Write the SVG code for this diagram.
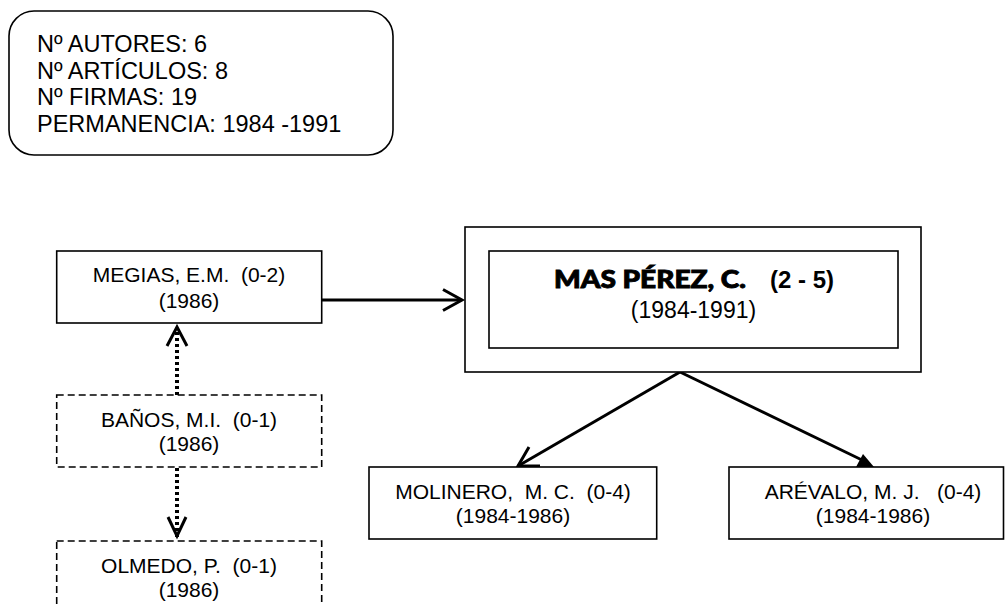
<svg xmlns="http://www.w3.org/2000/svg" width="1005" height="606" viewBox="0 0 1005 606" xml:space="preserve">
<style>
text{white-space:pre}
.box{fill:#fff;stroke:#000;stroke-width:1.6}
.dash{fill:#fff;stroke:#000;stroke-width:1.6;stroke-dasharray:7 4}
.t{font-family:"Liberation Sans",Arial,sans-serif;font-size:21px;fill:#000;text-anchor:middle}
.info{font-family:"Liberation Sans",Arial,sans-serif;font-size:23.5px;fill:#000}
.con{fill:none;stroke:#000;stroke-width:3}
.dot{fill:none;stroke:#000;stroke-width:4;stroke-dasharray:3 3}
.head{fill:none;stroke:#000;stroke-width:3;stroke-linejoin:miter}
</style>
<rect width="1005" height="606" fill="#fff"/>
<g id="info">
<rect x="9" y="11" width="384" height="144" rx="25" ry="25" class="box"/>
<text class="info" x="37" y="52">Nº AUTORES: 6</text>
<text class="info" x="37" y="78.5">Nº ARTÍCULOS: 8</text>
<text class="info" x="37" y="105">Nº FIRMAS: 19</text>
<text class="info" x="37" y="132">PERMANENCIA: 1984 -1991</text>
</g>
<g id="connectors">
<line x1="322" y1="300" x2="461" y2="300" class="con"/>
<polyline points="443,289.5 462,300 443,310.5" class="head"/>
<line x1="177" y1="395" x2="177" y2="328" class="dot"/>
<polyline points="167,346 177,327 187,346" class="head"/>
<line x1="177" y1="468" x2="177" y2="538" class="dot"/>
<polyline points="168,517 177,536 186,517" class="head"/>
<line x1="680" y1="372" x2="518" y2="466" class="con"/>
<polyline points="529,447 518,466 540,466" class="head"/>
<line x1="680" y1="372" x2="862" y2="460" class="con"/>
<polygon points="856,467 863,454 874,467" fill="#000"/>
</g>
<g id="megias">
<rect x="56.7" y="251" width="265" height="72" class="box"/>
<text class="t" x="189" y="282">MEGIAS, E.M.  (0-2)</text>
<text class="t" x="189" y="308">(1986)</text>
</g>
<g id="banos">
<rect x="56.7" y="395" width="265" height="72" class="dash"/>
<text class="t" x="189" y="427">BAÑOS, M.I.  (0-1)</text>
<text class="t" x="189" y="451">(1986)</text>
</g>
<g id="olmedo">
<rect x="56.7" y="541" width="265" height="80" class="dash"/>
<text class="t" x="189" y="573">OLMEDO, P.  (0-1)</text>
<text class="t" x="189" y="597">(1986)</text>
</g>
<g id="mas">
<rect x="465" y="227" width="456" height="145" class="box" stroke-width="2"/>
<rect x="489" y="251" width="409" height="97" class="box" stroke-width="2"/>
<text x="554" y="288" style="font-family:Lato,Roboto,'Liberation Sans',sans-serif;font-size:24px;font-weight:900;stroke:#000;stroke-width:0.9" textLength="192" lengthAdjust="spacingAndGlyphs">MAS PÉREZ, C.</text>
<text x="770" y="288" style="font-family:'Liberation Sans',Arial,sans-serif;font-size:24px;font-weight:bold">(2 - 5)</text>
<text class="t" x="693.5" y="318" style="font-size:23px">(1984-1991)</text>
</g>
<g id="molinero">
<rect x="369" y="467" width="287.7" height="72" class="box"/>
<text class="t" x="513" y="499">MOLINERO,  M. C.  (0-4)</text>
<text class="t" x="513" y="523">(1984-1986)</text>
</g>
<g id="arevalo">
<rect x="729" y="467" width="274.5" height="72" class="box"/>
<text class="t" x="873" y="499">ARÉVALO, M. J.   (0-4)</text>
<text class="t" x="873" y="523">(1984-1986)</text>
</g>
</svg>
